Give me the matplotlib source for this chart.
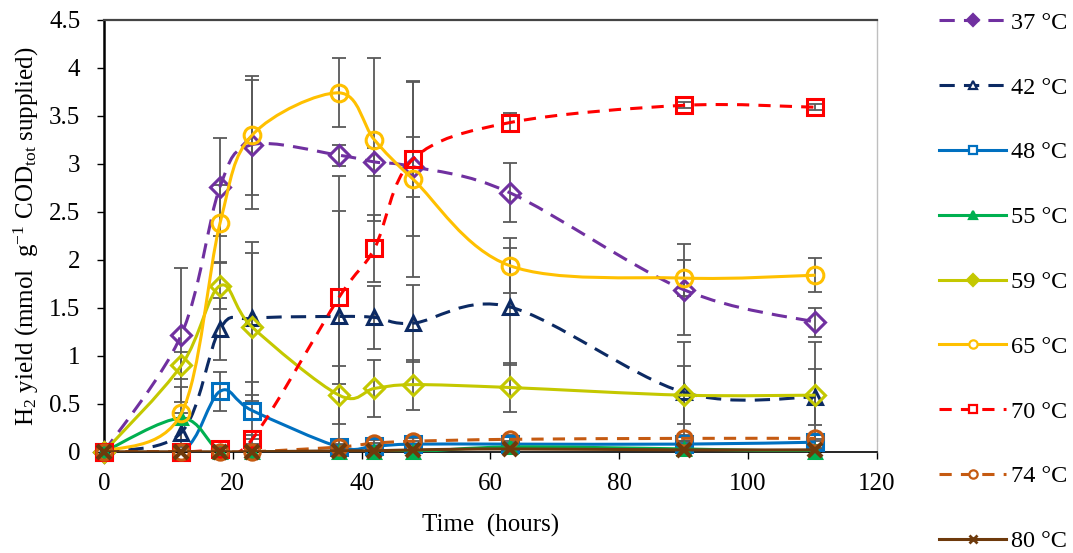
import matplotlib
matplotlib.use('Agg')
import matplotlib.pyplot as plt
from matplotlib.path import Path
from matplotlib.patches import PathPatch
from matplotlib.lines import Line2D

plt.rcParams['font.family'] = ['Liberation Serif', 'DejaVu Serif']
plt.rcParams['mathtext.fontset'] = 'custom'
plt.rcParams['mathtext.rm'] = 'Liberation Serif'
plt.rcParams['mathtext.it'] = 'Liberation Serif:italic'

# sampling times (hours)
hours = [0, 12, 18, 23, 36.5, 42, 48, 63, 90, 110.5]

labels = ['37 °C', '42 °C', '48 °C', '55 °C', '59 °C', '65 °C', '70 °C', '74 °C', '80 °C']

# H2 yield, mmol/g CODtot supplied
y37 = [0, 1.22, 2.76, 3.20, 3.09, 3.02, 2.97, 2.70, 1.69, 1.35]
y42 = [0, 0.20, 1.28, 1.39, 1.41, 1.40, 1.34, 1.51, 0.62, 0.57]
y48 = [0, 0.00, 0.63, 0.43, 0.05, 0.06, 0.08, 0.08, 0.08, 0.10]
y55 = [0, 0.35, 0.00, 0.00, 0.00, 0.00, 0.00, 0.05, 0.03, 0.00]
y59 = [0, 0.90, 1.73, 1.30, 0.59, 0.66, 0.70, 0.67, 0.59, 0.59]
y65 = [0, 0.40, 2.38, 3.30, 3.74, 3.25, 2.84, 1.94, 1.81, 1.84]
y70 = [0, 0.00, 0.03, 0.13, 1.61, 2.12, 3.05, 3.43, 3.61, 3.59]
y74 = [0, 0.00, 0.00, 0.00, 0.05, 0.09, 0.11, 0.13, 0.14, 0.14]
y80 = [0, 0.00, 0.00, 0.00, 0.01, 0.01, 0.02, 0.03, 0.02, 0.02]

# standard deviations
e37 = [0, 0.70, 0.51, 0.67, 0.11, 0.15, 0.31, 0.31, 0.47, 0.15]
e42 = [0, 0.15, 0.32, 0.80, 1.46, 0.33, 0.40, 0.61, 0.52, 0.29]
e48 = [0, 0.00, 0.20, 0.30, 0.03, 0.03, 0.03, 0.03, 0.03, 0.03]
e55 = [0, 0.05, 0.00, 0.00, 0.00, 0.00, 0.00, 0.02, 0.02, 0.00]
e59 = [0, 0.14, 0.24, 0.77, 0.30, 0.30, 0.26, 0.26, 0.30, 0.55]
e65 = [0, 0.28, 0.40, 0.62, 0.36, 0.85, 1.02, 0.29, 0.19, 0.18]
e70 = [0, 0.00, 0.02, 0.05, 0.90, 0.35, 0.80, 0.10, 0.03, 0.03]
e74 = [0, 0.00, 0.00, 0.00, 0.02, 0.03, 0.03, 0.04, 0.03, 0.03]
e80 = [0, 0.00, 0.00, 0.00, 0.00, 0.00, 0.00, 0.01, 0.01, 0.01]

ys = [y37, y42, y48, y55, y59, y65, y70, y74, y80]
es = [e37, e42, e48, e55, e59, e65, e70, e74, e80]
colors = ['#7030a0', '#0c2a63', '#0070c0', '#00b050', '#c4c800',
          '#ffc000', '#ff0000', '#c55a11', '#6e3a0c']
styles = [(0, (5, 3)), (0, (5, 3)), '-', '-', '-', '-', (0, (4, 3)), (0, (4, 3)), '-']
markers = ['D', '^', 's', '^', 'D', 'o', 's', 'o', 'x']
msizes = [10, 10, 11, 9, 10, 12, 12, 11, 10]
filled = [False, False, False, True, False, False, False, False, False]
legend_filled = [True, False, False, True, True, False, False, False, False]


def smooth_path(x, y):
    # excel-like smoothed line: cubic bezier through the points
    n = len(x)
    verts = [(x[0], y[0])]
    codes = [Path.MOVETO]
    for i in range(n - 1):
        x0, y0 = (x[i - 1], y[i - 1]) if i > 0 else (x[i], y[i])
        x3, y3 = (x[i + 2], y[i + 2]) if i + 2 < n else (x[i + 1], y[i + 1])
        c1 = (x[i] + (x[i + 1] - x0) / 6, y[i] + (y[i + 1] - y0) / 6)
        c2 = (x[i + 1] - (x3 - x[i]) / 6, y[i + 1] - (y3 - y[i]) / 6)
        verts += [c1, c2, (x[i + 1], y[i + 1])]
        codes += [Path.CURVE4] * 3
    return Path(verts, codes)


fig = plt.figure(figsize=(10.73, 5.53), dpi=100)
ax = fig.add_axes([0.097, 0.183, 0.72, 0.781])

handles = []
for k in range(len(ys)):
    ax.errorbar(hours, ys[k], yerr=es[k], fmt='none', ecolor='#595959',
                elinewidth=1.3, capsize=5, capthick=1.3, zorder=2)
for k in range(len(ys)):
    c = colors[k]
    ax.add_patch(PathPatch(smooth_path(hours, ys[k]), fill=False, edgecolor=c,
                           lw=2.2, linestyle=styles[k], zorder=3 + k,
                           capstyle='butt'))
    fc = c if filled[k] else 'none'
    mew = 3 if markers[k] == 'x' else 2.2
    ax.plot(hours, ys[k], linestyle='none', marker=markers[k], ms=msizes[k],
            mec=c, mfc=fc, mew=mew, zorder=3 + k, clip_on=False)
    handles.append(Line2D([], [], color=c, lw=2.2, linestyle=styles[k],
                          marker=markers[k], ms=6, mec=c,
                          mfc=c if legend_filled[k] else 'white',
                          mew=2 if markers[k] == 'x' else 1.6))

ax.set_xlim(0, 120)
ax.set_ylim(0, 4.5)
ax.set_xticks(range(0, 121, 20))
ax.set_yticks([0, 0.5, 1, 1.5, 2, 2.5, 3, 3.5, 4, 4.5])
ax.set_yticklabels(['0', '0.5', '1', '1.5', '2', '2.5', '3', '3.5', '4', '4.5'])
ax.tick_params(labelsize=18, direction='out', width=1, color='black')
ax.tick_params(axis='y', length=5, pad=12)
ax.tick_params(axis='x', length=5, pad=10)

ax.spines['left'].set_linewidth(1.8)
ax.spines['bottom'].set_linewidth(1.2)
ax.spines['top'].set_color('#444444')
ax.spines['top'].set_linewidth(1.6)
ax.spines['right'].set_color('#bfbfbf')
ax.spines['right'].set_linewidth(1)

ax.set_xlabel('Time  (hours)', fontsize=18, labelpad=14)
ax.set_ylabel(r'H$_2$ yield (mmol  g$^{-1}$ COD$_{\mathrm{tot}}$ supplied)', fontsize=18, labelpad=6)

fig.legend(handles, labels, loc='center left', bbox_to_anchor=(0.864, 0.49),
           frameon=False, fontsize=17.5, labelspacing=1.76, handlelength=2.75,
           handletextpad=0.2, borderpad=0)

fig.savefig('out.png', dpi=100)
